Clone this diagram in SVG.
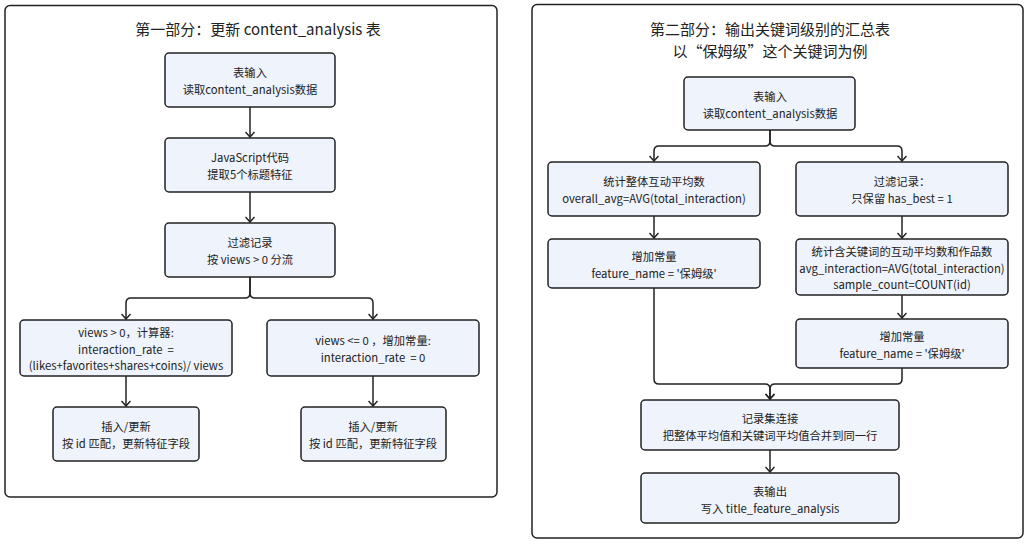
<svg xmlns="http://www.w3.org/2000/svg" width="1035" height="544" viewBox="0 0 1035 544">
<style>
.panel{fill:#ffffff;stroke:#222;stroke-width:1.5}
.node{fill:#eef3fc;stroke:#222;stroke-width:1.5}
.t{font-family:"Noto Sans CJK SC","Noto Sans",sans-serif;font-size:11.3px;fill:#222;text-anchor:middle;dominant-baseline:central}
.title{font-family:"Noto Sans CJK SC","Noto Sans",sans-serif;font-size:15px;fill:#222;text-anchor:middle;dominant-baseline:central}
.c{fill:none;stroke:#222;stroke-width:1.5;marker-end:url(#arr)}
</style>
<defs>
<marker id="arr" viewBox="0 0 10 10" refX="9" refY="5" markerWidth="10" markerHeight="10" orient="auto" markerUnits="userSpaceOnUse">
<path d="M4,0.5 L9,5 L4,9.5" fill="none" stroke="#222" stroke-width="1.5"/>
</marker>
</defs>
<rect width="1035" height="544" fill="#ffffff"/>
<g id="panel1">
<rect class="panel" x="5" y="5.5" width="492" height="491.5" rx="5"/>
<text class="title" x="258" y="28">第一部分：更新 content_analysis 表</text>
</g>
<g id="panel2">
<rect class="panel" x="532" y="4.5" width="491" height="533.5" rx="5"/>
<text class="title" x="770" y="28">第二部分：输出关键词级别的汇总表</text>
<text class="title" x="770" y="50">以“保姆级”这个关键词为例</text>
</g>
<g id="connectors">
<path class="c" d="M250,107 V137"/>
<path class="c" d="M250,192 V222"/>
<path class="c" d="M250,277 V293 Q250,298 245,298 H131 Q126,298 126,303 V319"/>
<path class="c" d="M250,277 V293 Q250,298 255,298 H368 Q373,298 373,303 V319"/>
<path class="c" d="M126,376 V406"/>
<path class="c" d="M373,376 V406"/>
<path class="c" d="M770,130 V141 Q770,146 765,146 H659 Q654,146 654,151 V161"/>
<path class="c" d="M770,130 V141 Q770,146 775,146 H897 Q902,146 902,151 V161"/>
<path class="c" d="M654,216 V238"/>
<path class="c" d="M902,216 V238"/>
<path class="c" d="M902,295 V318"/>
<path class="c" d="M654,288 V379 Q654,384 659,384 H765 Q770,384 770,389 V399"/>
<path class="c" d="M902,368 V379 Q902,384 897,384 H775 Q770,384 770,389 V399"/>
<path class="c" d="M770,450 V472"/>
</g>
<g id="n1">
<rect class="node" x="165" y="53" width="170" height="54" rx="4"/>
<text class="t" x="250" y="72">表输入</text>
<text class="t" x="250" y="89">读取content_analysis数据</text>
</g>
<g id="n2">
<rect class="node" x="165" y="138" width="170" height="54" rx="4"/>
<text class="t" x="250" y="157">JavaScript代码</text>
<text class="t" x="250" y="174">提取5个标题特征</text>
</g>
<g id="n3">
<rect class="node" x="165" y="223" width="170" height="54" rx="4"/>
<text class="t" x="250" y="242">过滤记录</text>
<text class="t" x="250" y="259">按 views &gt; 0 分流</text>
</g>
<g id="n4">
<rect class="node" x="20" y="320" width="212" height="56" rx="4"/>
<text class="t" x="126" y="332">views &gt; 0，计算器:</text>
<text class="t" x="126" y="349">interaction_rate &#160;=</text>
<text class="t" x="126" y="365">(likes+favorites+shares+coins)/ views</text>
</g>
<g id="n5">
<rect class="node" x="267" y="320" width="212" height="56" rx="4"/>
<text class="t" x="373" y="340">views &lt;= 0 ，增加常量:</text>
<text class="t" x="373" y="357">interaction_rate &#160;= 0</text>
</g>
<g id="n6">
<rect class="node" x="53" y="407" width="146" height="54" rx="4"/>
<text class="t" x="126" y="426">插入/更新</text>
<text class="t" x="126" y="443">按 id 匹配，更新特征字段</text>
</g>
<g id="n7">
<rect class="node" x="301" y="407" width="145" height="54" rx="4"/>
<text class="t" x="373" y="426">插入/更新</text>
<text class="t" x="373" y="443">按 id 匹配，更新特征字段</text>
</g>
<g id="nA">
<rect class="node" x="684" y="77" width="171" height="53" rx="4"/>
<text class="t" x="770" y="96">表输入</text>
<text class="t" x="770" y="113">读取content_analysis数据</text>
</g>
<g id="nB">
<rect class="node" x="548" y="162" width="212" height="54" rx="4"/>
<text class="t" x="654" y="181">统计整体互动平均数</text>
<text class="t" x="654" y="198">overall_avg=AVG(total_interaction)</text>
</g>
<g id="nC">
<rect class="node" x="796" y="162" width="212" height="54" rx="4"/>
<text class="t" x="902" y="181">过滤记录：</text>
<text class="t" x="902" y="198">只保留 has_best = 1</text>
</g>
<g id="nD">
<rect class="node" x="548" y="239" width="212" height="49" rx="4"/>
<text class="t" x="654" y="256">增加常量</text>
<text class="t" x="654" y="273">feature_name = '保姆级'</text>
</g>
<g id="nE">
<rect class="node" x="796" y="239" width="212" height="56" rx="4"/>
<text class="t" x="902" y="251">统计含关键词的互动平均数和作品数</text>
<text class="t" x="902" y="268">avg_interaction=AVG(total_interaction)</text>
<text class="t" x="902" y="284">sample_count=COUNT(id)</text>
</g>
<g id="nF">
<rect class="node" x="796" y="319" width="212" height="49" rx="4"/>
<text class="t" x="902" y="336">增加常量</text>
<text class="t" x="902" y="353">feature_name = '保姆级'</text>
</g>
<g id="nG">
<rect class="node" x="641" y="400" width="258" height="50" rx="4"/>
<text class="t" x="770" y="418">记录集连接</text>
<text class="t" x="770" y="435">把整体平均值和关键词平均值合并到同一行</text>
</g>
<g id="nH">
<rect class="node" x="641" y="473" width="258" height="50" rx="4"/>
<text class="t" x="770" y="491">表输出</text>
<text class="t" x="770" y="508">写入 title_feature_analysis</text>
</g>
</svg>
